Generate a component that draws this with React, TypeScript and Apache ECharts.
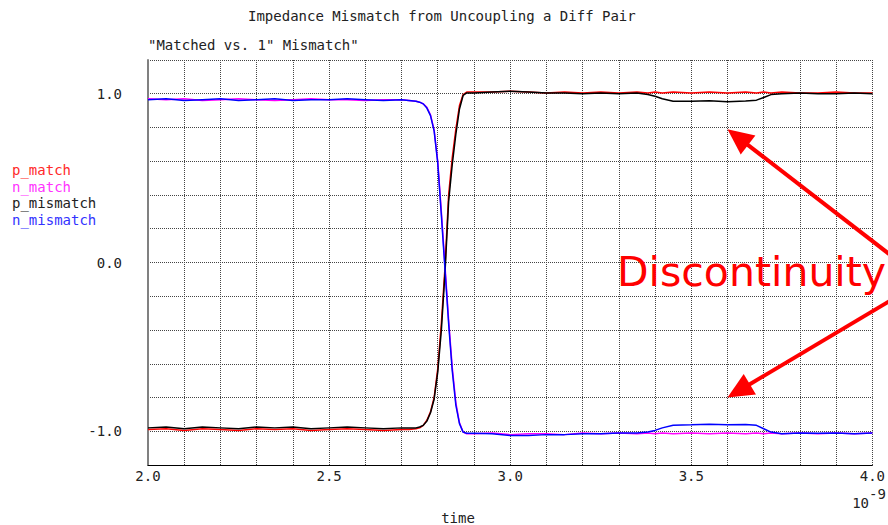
import React, { useEffect, useRef } from "react";
import * as echarts from "echarts";

// time axis (ns, x 1e-9)
const times = [
  2.0, 2.05, 2.1, 2.15, 2.2, 2.25, 2.3, 2.35, 2.4, 2.45, 2.5, 2.55, 2.6, 2.65, 2.7,
  2.72, 2.74, 2.75, 2.76, 2.77, 2.78, 2.79, 2.8, 2.81, 2.82, 2.83, 2.84, 2.85, 2.86, 2.87, 2.88,
  2.9, 2.95, 3.0, 3.05, 3.1, 3.15, 3.2, 3.25, 3.3, 3.35,
  3.38, 3.4, 3.42, 3.45, 3.5, 3.55, 3.6, 3.65, 3.68, 3.7, 3.72,
  3.75, 3.8, 3.85, 3.9, 3.95, 4.0,
];

const pMatch = [
  -0.99, -0.985, -0.995, -0.985, -0.99, -0.995, -0.985, -0.99, -0.985, -0.995, -0.99, -0.985, -0.99, -0.995, -0.99,
  -0.99, -0.985, -0.98, -0.965, -0.935, -0.885, -0.8, -0.63, -0.36, -0.03, 0.4, 0.62, 0.79, 0.93, 0.995, 1.01,
  1.01, 1.01, 1.015, 1.01, 1.005, 1.01, 1.005, 1.01, 1.005, 1.01,
  1.005, 1.01, 1.005, 1.01, 1.005, 1.01, 1.005, 1.01, 1.005, 1.01, 1.005,
  1.01, 1.005, 1.005, 1.01, 1.005, 1.005,
];

const nMatch = [
  0.97, 0.965, 0.97, 0.96, 0.965, 0.97, 0.965, 0.96, 0.965, 0.97, 0.965, 0.965, 0.96, 0.965, 0.965,
  0.96, 0.955, 0.95, 0.94, 0.92, 0.875, 0.785, 0.6, 0.3, -0.02, -0.34, -0.62, -0.83, -0.95, -1.005, -1.015,
  -1.015, -1.01, -1.02, -1.015, -1.015, -1.02, -1.01, -1.015, -1.01, -1.015,
  -1.01, -1.015, -1.01, -1.015, -1.01, -1.015, -1.01, -1.015, -1.01, -1.015, -1.01,
  -1.015, -1.01, -1.015, -1.01, -1.015, -1.01,
];

const pMismatch = [
  -0.98, -0.975, -0.985, -0.975, -0.98, -0.985, -0.975, -0.98, -0.975, -0.985, -0.98, -0.975, -0.98, -0.985, -0.98,
  -0.98, -0.98, -0.975, -0.965, -0.94, -0.89, -0.81, -0.65, -0.4, -0.06, 0.36, 0.58, 0.76, 0.91, 0.99, 1.005,
  1.005, 1.01, 1.015, 1.01, 1.005, 1.005, 1.0, 1.005, 1.0, 1.005,
  0.995, 0.985, 0.97, 0.955, 0.955, 0.958, 0.953, 0.957, 0.962, 0.978, 0.995,
  1.0, 1.005, 1.0, 1.0, 1.005, 1.0,
];

const nMismatch = [
  0.965, 0.97, 0.96, 0.965, 0.97, 0.96, 0.965, 0.97, 0.96, 0.965, 0.965, 0.97, 0.965, 0.96, 0.965,
  0.96, 0.955, 0.95, 0.94, 0.915, 0.87, 0.78, 0.59, 0.28, -0.04, -0.36, -0.64, -0.845, -0.955, -1.005, -1.012,
  -1.012, -1.015, -1.025, -1.025, -1.02, -1.02, -1.015, -1.015, -1.01, -1.01,
  -1.005, -0.995, -0.98, -0.965, -0.962, -0.958, -0.962, -0.96, -0.965, -0.985, -1.005,
  -1.015, -1.01, -1.012, -1.01, -1.015, -1.01,
];

const seriesNames = ["p_match", "n_match", "p_mismatch", "n_mismatch"];
const seriesColors = ["#ff0000", "#ff00ff", "#000000", "#0000ff"];
const legendColors = ["#ff2a2a", "#ff33ff", "#222222", "#3333ff"];
const seriesValues = [pMatch, nMatch, pMismatch, nMismatch];

const titleText = "Impedance Mismatch from Uncoupling a Diff Pair";
const subtitleText = '"Matched vs. 1" Mismatch"';
const xName = "time";
const annotationText = "Discontinuity";
// arrow targets in data coordinates [time, value]
const arrowTargets = [
  [3.6, 0.79],
  [3.6, -0.8],
];
// arrow tails (pixels, off the right edge)
const arrowTails = [
  [893, 257],
  [893, 299],
];

const MONO = '"DejaVu Sans Mono", "Liberation Mono", monospace';

function arrowGraphics(tail: number[], tip: number[]) {
  const dx = tip[0] - tail[0];
  const dy = tip[1] - tail[1];
  const len = Math.sqrt(dx * dx + dy * dy);
  const ux = dx / len;
  const uy = dy / len;
  const nx = -uy;
  const ny = ux;
  const L = 26;
  const W = 12;
  const bx = tip[0] - L * ux;
  const by = tip[1] - L * uy;
  return [
    {
      type: "line",
      shape: { x1: tail[0], y1: tail[1], x2: bx + 2 * ux, y2: by + 2 * uy },
      style: { stroke: "#ff0000", lineWidth: 4 },
      z: 100,
    },
    {
      type: "polygon",
      shape: {
        points: [
          [tip[0], tip[1]],
          [bx + W * nx, by + W * ny],
          [bx - W * nx, by - W * ny],
        ],
      },
      style: { fill: "#ff0000" },
      z: 100,
    },
  ];
}

export default function App() {
  const ref = useRef<HTMLDivElement>(null);
  useEffect(() => {
    if (!ref.current) return;
    const chart = echarts.init(ref.current, null, { renderer: "svg" });
    const isMult = (v: number, m: number) => Math.abs(v / m - Math.round(v / m)) < 1e-6;
    chart.setOption({
      animation: false,
      backgroundColor: "#ffffff",
      grid: { left: 148, right: 13, top: 60, bottom: 60, containLabel: false },
      xAxis: {
        type: "value",
        min: 2.0,
        max: 4.0,
        interval: 0.1,
        axisLine: { onZero: false, lineStyle: { color: "#000000", width: 1 } },
        axisTick: { show: false },
        axisLabel: {
          margin: 4,
          fontFamily: MONO,
          fontSize: 14,
          color: "#222222",
          showMinLabel: true,
          showMaxLabel: true,
          formatter: (v: number) => (isMult(v, 0.5) ? v.toFixed(1) : ""),
        },
        splitLine: {
          show: true,
          showMinLine: true,
          showMaxLine: true,
          lineStyle: { color: "#444444", type: [1, 1], width: 1 },
        },
      },
      yAxis: {
        type: "value",
        min: -1.2,
        max: 1.2,
        interval: 0.2,
        axisLine: { show: true, onZero: false, lineStyle: { color: "#808080", width: 2 } },
        axisTick: { show: false },
        axisLabel: {
          margin: 26,
          fontFamily: MONO,
          fontSize: 14,
          color: "#222222",
          formatter: (v: number) => (isMult(v, 1) ? (Math.round(v) === 0 ? "0.0" : v.toFixed(1)) : ""),
        },
        splitLine: {
          show: true,
          showMinLine: false,
          showMaxLine: true,
          lineStyle: { color: "#444444", type: [1, 1], width: 1 },
        },
      },
      series: seriesNames.map((name, i) => ({
        name,
        type: "line",
        showSymbol: false,
        symbol: "none",
        lineStyle: { color: seriesColors[i], width: 1.5 },
        itemStyle: { color: seriesColors[i] },
        data: times.map((t, k) => [t, seriesValues[i][k]]),
        z: 3 + i,
      })),
    });

    const tips = arrowTargets.map((p) => chart.convertToPixel({ gridIndex: 0 }, p) as number[]);

    const graphics: any[] = [
      {
        type: "text",
        x: 248,
        y: 16,
        style: { text: titleText, font: `14px ${MONO}`, fill: "#222222", textVerticalAlign: "middle" },
      },
      {
        type: "text",
        x: 148,
        y: 45,
        style: { text: subtitleText, font: `14px ${MONO}`, fill: "#222222", textVerticalAlign: "middle" },
      },
      ...seriesNames.map((name, i) => ({
        type: "text",
        x: 12,
        y: 170 + i * 16.5,
        style: { text: name, font: `14px ${MONO}`, fill: legendColors[i], textVerticalAlign: "middle" },
      })),
      {
        type: "text",
        x: 458,
        y: 518,
        style: { text: xName, font: `14px ${MONO}`, fill: "#222222", textAlign: "center", textVerticalAlign: "middle" },
      },
      {
        type: "text",
        x: 869,
        y: 503,
        style: { text: "10", font: `14px ${MONO}`, fill: "#222222", textAlign: "right", textVerticalAlign: "middle" },
      },
      {
        type: "text",
        x: 869,
        y: 494,
        style: { text: "-9", font: `14px ${MONO}`, fill: "#222222", textAlign: "left", textVerticalAlign: "middle" },
      },
      {
        type: "text",
        x: 617,
        y: 272,
        z: 100,
        style: {
          text: annotationText,
          font: `41px "DejaVu Sans", sans-serif`,
          fill: "#ff0000",
          textVerticalAlign: "middle",
        },
      },
      ...arrowGraphics(arrowTails[0], tips[0]),
      ...arrowGraphics(arrowTails[1], tips[1]),
    ];
    chart.setOption({ graphic: graphics });

    return () => chart.dispose();
  }, []);

  return (
    <div
      ref={ref}
      style={{ position: "fixed", left: 0, top: 0, width: 888, height: 525, background: "#ffffff" }}
    />
  );
}
